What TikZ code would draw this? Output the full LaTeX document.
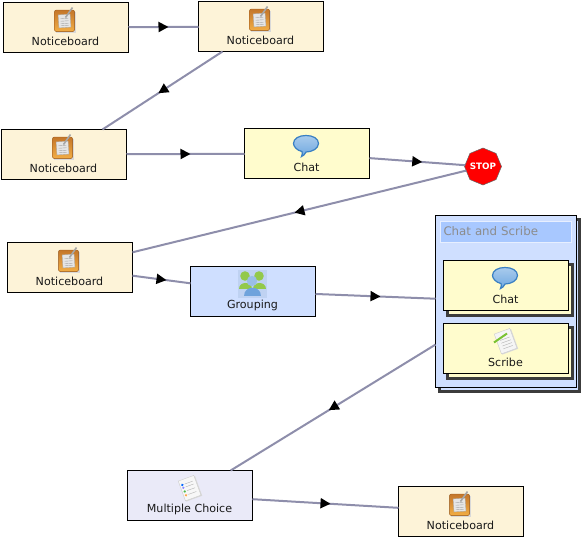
\documentclass[tikz,border=0pt]{standalone}
\usepackage{fontspec}
\setmainfont{DejaVu Sans}
\usetikzlibrary{arrows.meta,decorations.markings,shapes.geometric,calc}
\definecolor{nbfill}{HTML}{FDF3D8}
\definecolor{chatfill}{HTML}{FFFCCD}
\definecolor{groupfill}{HTML}{CFDFFF}
\definecolor{mcfill}{HTML}{EAEAF8}
\definecolor{edgecol}{HTML}{8E8EAB}
\definecolor{shadowcol}{HTML}{3C3C3C}
\definecolor{titlefill}{HTML}{A8C8FF}
\definecolor{nbdark}{HTML}{C4762A}
\definecolor{nblight}{HTML}{F2AE45}
\definecolor{bubble}{HTML}{6FA8E0}
\definecolor{bubbledark}{HTML}{3A80C4}
\definecolor{grgreen}{HTML}{93C94B}
\definecolor{grblue}{HTML}{6FA3DC}
\definecolor{grbg}{HTML}{BFD2F2}
\tikzset{
  x=1pt,y=-1pt,
  act/.style={draw=black,line width=1pt,minimum width=125pt,minimum height=50pt,inner sep=0pt,outer sep=0pt,
    label={[yshift=-14pt,xshift=-.5pt,text=black!90,inner sep=0pt,font=\fontsize{11.1}{12}\selectfont]center:#1}},
  nbbox/.style={act=#1,fill=nbfill},
  chatbox/.style={act=#1,fill=chatfill},
  grbox/.style={act=#1,fill=groupfill},
  mcbox/.style={act=#1,fill=mcfill},
  flow/.style={draw=edgecol,line width=2pt,postaction={decorate},
    decoration={markings,mark=at position .5 with {\arrow[black,xshift=5pt]{Triangle[length=10pt,width=10pt]}}}},
  pics/noticon/.style={code={
    \fill[black!15] (-9,-9) rectangle (11,12);
    \fill[rounded corners=2pt,top color=nbdark,bottom color=nblight,draw=nbdark!90!black,line width=.5pt] (-10,-10.5) rectangle (10,11);
    \fill[black!10,draw=black!35,line width=.3pt,rotate=4] (-6,-6) rectangle (6,7);
    \foreach \y in {-2,.5,3,5}{\draw[black!35,line width=.4pt,rotate=4] (-4,\y) -- (4,\y);}
    \draw[black!35,line width=1.6pt] (1,-3) -- (8,-13);
  }},
  pics/chaticon/.style={code={
    \fill[top color=bubble!60!white,bottom color=bubble,draw=bubbledark,line width=1.2pt]
      (0,-11) .. controls (7,-11) and (12.5,-8) .. (12.5,-3)
      .. controls (12.5,2) and (6,5.5) .. (0,5.5)
      .. controls (-1,7.5) and (-3,10) .. (-4.5,10)
      .. controls (-3.5,8) and (-3.5,6.5) .. (-4,5)
      .. controls (-9,4) and (-12.5,0) .. (-12.5,-3)
      .. controls (-12.5,-8) and (-7,-11) .. (0,-11) -- cycle;
  }},
  pics/scribeicon/.style={code={
    \fill[black!15,rotate=20] (-8,-10) rectangle (9,11);
    \fill[white!96!black,draw=black!20,line width=.4pt,rotate=20] (-8.5,-11) rectangle (8,10);
    \foreach \y in {-3,0,3,6}{\draw[black!30,line width=.4pt,rotate=20] (-5,\y) -- (5,\y);}
    \draw[green!50!yellow!70!black!80,line width=2pt] (-12,1) -- (1,-8);
  }},
  pics/mcicon/.style={code={
    \fill[black!15,rotate=20] (-8,-10) rectangle (9,11);
    \fill[white!97!black,draw=black!20,line width=.4pt,rotate=20] (-8.5,-11) rectangle (8,10);
    \foreach \y/\c in {-6/blue!60!cyan,-3/blue!45,1/green!60!black!70,5/orange!70}{
      \fill[\c,rotate=20] (-6,\y) circle (1.3);
      \draw[black!30,line width=.4pt,rotate=20] (-3.5,\y) -- (5,\y);}
  }},
  pics/groupicon/.style={code={
    \fill[grbg] (-14.5,-13.5) rectangle (14.5,14);
    \foreach \xx in {-7,7}{
      \fill[grgreen] (\xx,-7.5) circle (4.8);
      \fill[grgreen] (\xx-6.5,5) .. controls (\xx-6.5,-3) and (\xx+6.5,-3) .. (\xx+6.5,5) -- cycle;
    }
    \fill[grblue!70!white] (0,-2.5) circle (5.2);
    \fill[grblue] (-8.5,12) .. controls (-8.5,1) and (8.5,1) .. (8.5,12) -- cycle;
  }},
}
\begin{document}
\begin{tikzpicture}
\useasboundingbox (0,0) rectangle (581,541);
% activity nodes
\node[nbbox=Noticeboard] (n1) at (66,27.5) {};
\node[nbbox=Noticeboard] (n2) at (261,26.5) {};
\node[nbbox=Noticeboard] (n3) at (64,154.5) {};
\node[chatbox=Chat] (chat) at (307,153.5) {};
\node[nbbox=Noticeboard] (n4) at (70,267.5) {};
\node[grbox=Grouping] (grp) at (253,291.5) {};
\node[mcbox={Multiple Choice}] (mc) at (190,495.5) {};
\node[nbbox=Noticeboard] (n5) at (461,511.5) {};
\node[regular polygon,regular polygon sides=8,shape border rotate=22.5,minimum size=37pt,inner sep=0pt,outer sep=0pt,
  fill=red,draw=black!60,line width=.5pt,
  label={[text=white,inner sep=0pt,font=\bfseries\fontsize{8.8}{9}\selectfont]center:STOP}] (stop) at (483,166.5) {};
% parallel group
\draw[shadowcol,line width=3pt,fill=groupfill] (439.5,219) rectangle (579.5,391.5);
\node[draw=black,line width=1pt,fill=groupfill,minimum width=141pt,minimum height=172pt,inner sep=0pt,outer sep=0pt] (par) at (506,301.5) {};
\node[fill=titlefill,draw=white!50!groupfill,line width=1pt,minimum width=131pt,minimum height=21pt,inner sep=0pt,
  text=black!45,font=\fontsize{11.8}{13}\selectfont,text width=125pt,align=left] (ptitle) at (506,232) {\raisebox{2pt}{Chat and Scribe}};
\draw[shadowcol,line width=3pt,fill=chatfill] (447,264) rectangle (572,315.5);
\draw[shadowcol,line width=3pt,fill=chatfill] (447,327) rectangle (572,378.5);
\node[chatbox=Chat] (ichat) at (506,285.5) {};
\node[chatbox=Scribe] (iscribe) at (506,348.5) {};
% connectors
\draw[flow] (n1) -- (n2);
\draw[flow] (n2) -- (n3);
\draw[flow] (n3) -- (chat);
\draw[flow] (chat) -- (stop);
\draw[flow] (stop) -- (n4);
\draw[flow] (n4) -- (grp);
\draw[flow] (grp) -- (par);
\draw[flow] (par) -- (mc);
\draw[flow] (mc) -- (n5);
% icons
\foreach \n in {n1,n2,n3,n4,n5}{\pic at ($(\n.center)+(-1.5,-7)$) {noticon};}
\pic at ($(chat.center)+(-1,-7)$) {chaticon};
\pic at ($(ichat.center)+(-1,-7)$) {chaticon};
\pic at ($(iscribe.center)+(0,-7)$) {scribeicon};
\pic at ($(mc.center)+(0,-7)$) {mcicon};
\pic at ($(grp.center)+(-1,-8)$) {groupicon};
\end{tikzpicture}
\end{document}
